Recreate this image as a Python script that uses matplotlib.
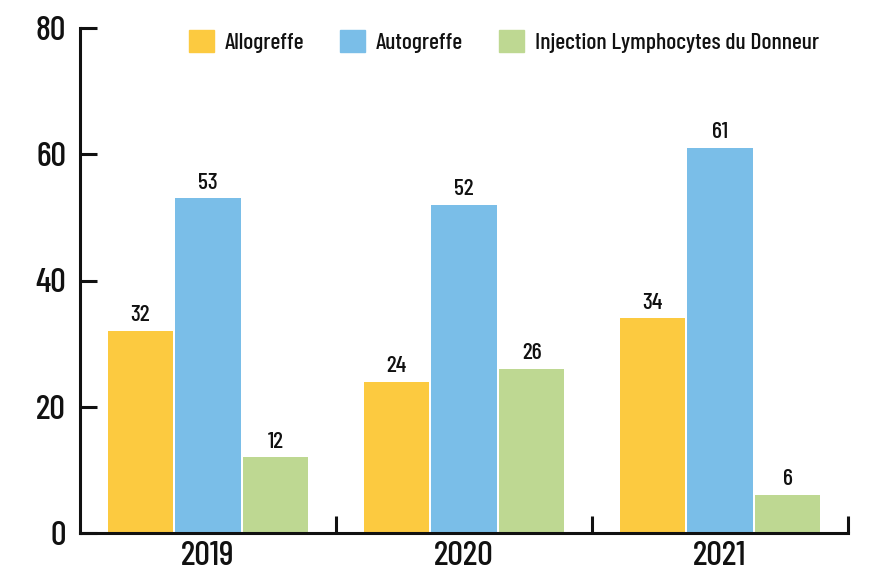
import matplotlib
matplotlib.use("Agg")
import matplotlib.pyplot as plt
from matplotlib.patches import Patch
import numpy as np

years = ["2019", "2020", "2021"]
series_names = ["Allogreffe", "Autogreffe", "Injection Lymphocytes du Donneur"]
allogreffe = [32, 24, 34]
autogreffe = [53, 52, 61]
injection = [12, 26, 6]
y_ticks = [0, 20, 40, 60, 80]
colors = ["#FCCA40", "#7ABEE8", "#BED892"]

plt.rcParams["font.family"] = ["Barlow Condensed", "DejaVu Sans"]
plt.rcParams["font.weight"] = "medium"
plt.rcParams["text.color"] = "#111111"

fig = plt.figure(figsize=(8.85, 5.8), dpi=100)
ax = fig.add_axes([80/885, 1-533/580, (848-80)/885, (533-28)/580])

x = np.arange(len(years))
w = 0.254
step = 0.265
for i, vals in enumerate([allogreffe, autogreffe, injection]):
    pos = x + (i - 1) * step
    bars = ax.bar(pos, vals, width=w, color=colors[i], zorder=2)
    for b, v in zip(bars, vals):
        ax.text(b.get_x() + b.get_width()/2, v + 0.9, str(v), ha="center", va="bottom",
                fontsize=17)

ax.set_xlim(-0.5, 2.5)
ax.set_ylim(0, 80)
ax.set_yticks(y_ticks)
ax.set_yticklabels([str(t) for t in y_ticks], fontsize=25)
ax.tick_params(axis="y", direction="in", length=12, width=2.2, pad=10, colors="#111111")
ax.set_xticks(x)
ax.set_xticklabels(years, fontsize=25)
ax.tick_params(axis="x", length=0, pad=6, colors="#111111")
ax.set_xticks([0.5, 1.5, 2.5], minor=True)
ax.tick_params(axis="x", which="minor", direction="in", length=12, width=2.2, color="#111111")
for s in ["top", "right"]:
    ax.spines[s].set_visible(False)
for s in ["left", "bottom"]:
    ax.spines[s].set_linewidth(2.2)
    ax.spines[s].set_color("#111111")

handles = [Patch(color=c, label=n) for c, n in zip(colors, series_names)]
leg = fig.legend(handles=handles, loc="center left", bbox_to_anchor=(189/885, 1-41.5/580), ncol=3,
                 frameon=False, fontsize=17, handlelength=1.06, handleheight=1.06,
                 handletextpad=0.47, columnspacing=1.5, borderaxespad=0, borderpad=0)

fig.savefig("out.png", dpi=100)
